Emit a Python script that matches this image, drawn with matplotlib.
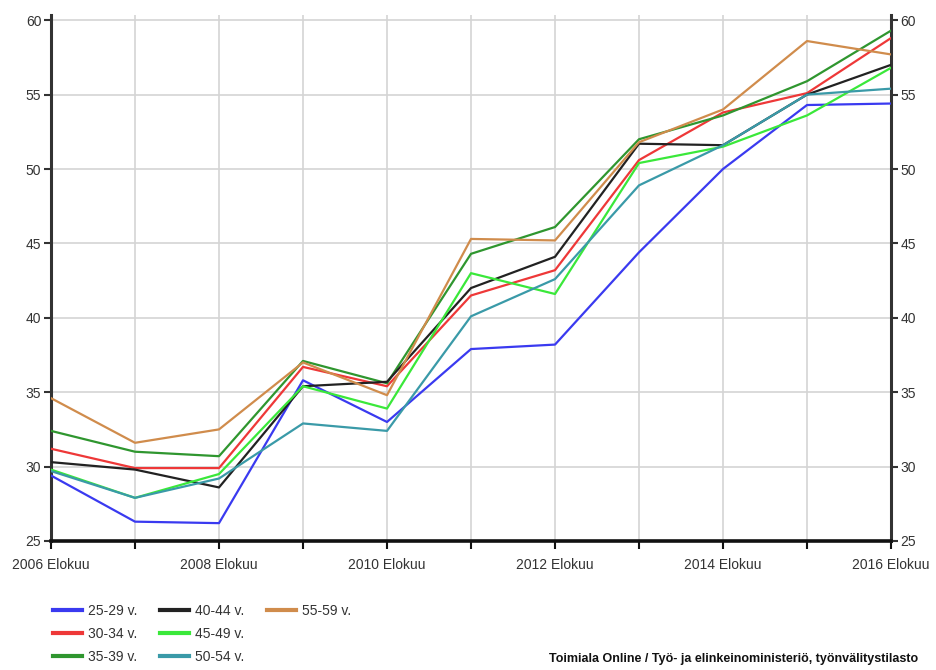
import matplotlib
matplotlib.use("Agg")
import matplotlib.pyplot as plt
from matplotlib.lines import Line2D

plt.rcParams['font.family'] = ['Liberation Sans', 'DejaVu Sans']

years = list(range(2006, 2017))
tick_labels = ["2006 Elokuu", "2008 Elokuu", "2010 Elokuu", "2012 Elokuu", "2014 Elokuu", "2016 Elokuu"]

age_groups = ["25-29 v.", "30-34 v.", "35-39 v.", "40-44 v.", "45-49 v.", "50-54 v.", "55-59 v."]
colors = ["#3a3af0", "#ee3838", "#2f962f", "#222222", "#3ae83a", "#3a9aa8", "#d08c4c"]

s_25_29 = [29.4, 26.3, 26.2, 35.8, 33.0, 37.9, 38.2, 44.4, 50.0, 54.3, 54.4]
s_30_34 = [31.2, 29.9, 29.9, 36.7, 35.4, 41.5, 43.2, 50.6, 53.8, 55.1, 58.8]
s_35_39 = [32.4, 31.0, 30.7, 37.1, 35.6, 44.3, 46.1, 52.0, 53.6, 55.9, 59.3]
s_40_44 = [30.3, 29.8, 28.6, 35.4, 35.7, 42.0, 44.1, 51.7, 51.6, 55.0, 57.0]
s_45_49 = [29.8, 27.9, 29.5, 35.4, 33.9, 43.0, 41.6, 50.4, 51.5, 53.6, 56.8]
s_50_54 = [29.7, 27.9, 29.2, 32.9, 32.4, 40.1, 42.6, 48.9, 51.6, 55.0, 55.4]
s_55_59 = [34.6, 31.6, 32.5, 37.0, 34.8, 45.3, 45.2, 51.8, 54.0, 58.6, 57.7]

series = [s_25_29, s_30_34, s_35_39, s_40_44, s_45_49, s_50_54, s_55_59]

fig = plt.figure(figsize=(9.36, 6.70), dpi=100)
ax = fig.add_axes([51 / 936, 1 - 541 / 670, 840 / 936, 526 / 670])

handles = []
for vals, col, lab in zip(series, colors, age_groups):
    h, = ax.plot(years, vals, color=col, lw=1.6, label=lab, zorder=3)
    handles.append(h)

ax.set_xlim(2006, 2016)
ax.set_ylim(25, 60.35)
ax.set_yticks([25, 30, 35, 40, 45, 50, 55, 60])
ax.set_xticks(years)
ax.set_xticklabels([tick_labels[i // 2] if i % 2 == 0 else "" for i in range(len(years))])

ax.grid(True, color="#d4d4d4", lw=1.2, zorder=0)
ax.set_axisbelow(True)

for side in ("left", "right"):
    ax.spines[side].set_color("#333333")
    ax.spines[side].set_linewidth(2.2)
ax.spines["bottom"].set_color("#111111")
ax.spines["bottom"].set_linewidth(2.6)
ax.spines["top"].set_visible(False)

ax.tick_params(axis="y", which="both", left=True, right=True, labelleft=True, labelright=True,
               direction="out", length=5, width=1.5, color="#333333", labelsize=10, labelcolor="#333333", pad=2)
ax.tick_params(axis="x", direction="out", length=6, width=1.5, color="#111111", labelsize=10,
               labelcolor="#333333", pad=6)

# Legend laid out column by column, three rows; two empty slots fill the last column
blank = [Line2D([], [], alpha=0) for _ in range(2)]
leg_handles = handles + blank
leg_labels = age_groups + ["", ""]
leg = fig.legend(handles=leg_handles, labels=leg_labels, loc="upper left",
                 bbox_to_anchor=(46 / 936, 1 - 597 / 670), ncol=3,
                 frameon=False, fontsize=10, handlelength=2.1, handletextpad=0.45, columnspacing=1.6,
                 labelspacing=0.65, borderpad=0, labelcolor="#333333")
for lh in leg.get_lines():
    lh.set_linewidth(3)

fig.text(918 / 936, 1 - 659 / 670, "Toimiala Online / Työ- ja elinkeinoministeriö, työnvälitystilasto",
         ha="right", va="center", fontsize=9, fontweight="bold", color="#111111")

fig.savefig("out.png", dpi=100)
